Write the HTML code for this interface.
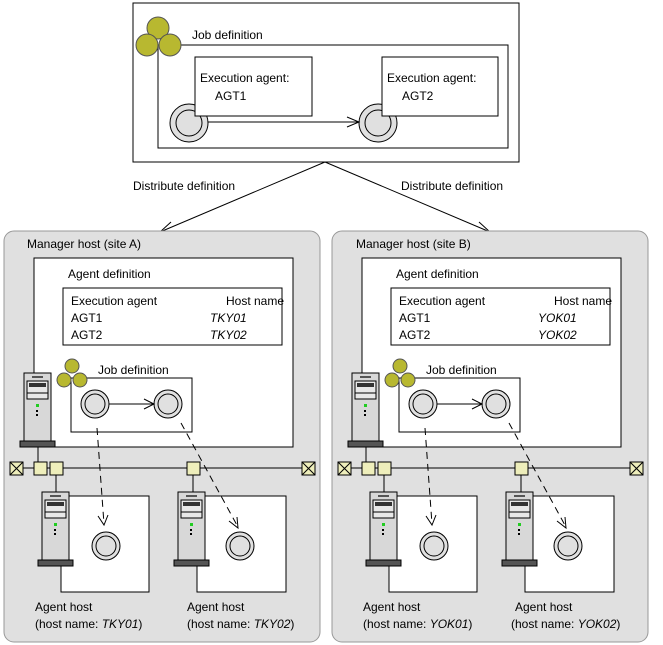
<!DOCTYPE html>
<html><head><style>
body{margin:0;background:#fff}
svg{display:block}
text{font-family:"Liberation Sans",sans-serif;font-size:12px;fill:#000}
.i{font-style:italic}
</style></head><body>
<svg width="663" height="645" viewBox="0 0 663 645" xmlns="http://www.w3.org/2000/svg">
<defs>
<g id="srv">
<rect x="0" y="0" width="27" height="68" fill="#d8d8d8" stroke="#000"/>
<line x1="8" y1="4" x2="19" y2="4" stroke="#555" stroke-width="2"/>
<rect x="3" y="8" width="21" height="18" fill="#e8e8e8" stroke="#000"/>
<rect x="5" y="10" width="17" height="4" fill="#333"/>
<line x1="3" y1="20" x2="24" y2="20" stroke="#000"/>
<rect x="12" y="31" width="3" height="3" fill="#2c2"/>
<rect x="12" y="37" width="2" height="2" fill="#000"/>
<rect x="12" y="41" width="2" height="2" fill="#000"/>
<rect x="-4" y="68" width="35" height="6" fill="#555" stroke="#000"/>
</g>
<g id="jc"><circle r="14" fill="#e0e0e0" stroke="#000"/><circle r="10" fill="#e0e0e0" stroke="#000"/></g>
<g id="sq"><rect x="-6" y="-6" width="13" height="13" fill="#eeeebb" stroke="#000"/></g>
<g id="xq"><rect x="-6" y="-6" width="13" height="13" fill="#eeeebb" stroke="#000"/><path d="M-6,-6L7,7M7,-6L-6,7" stroke="#000"/></g>
<g id="olv"><circle cx="0" cy="-7" r="7" fill="#b8b830" stroke="#555"/><circle cx="-8" cy="7" r="7" fill="#b8b830" stroke="#555"/><circle cx="8" cy="7" r="7" fill="#b8b830" stroke="#555"/></g>
<g id="site">
<rect x="4" y="231" width="316" height="411" rx="10" fill="#e0e0e0" stroke="#999"/>
<text x="27" y="248">Manager host (site A)</text>
<rect x="34" y="258" width="259" height="189" fill="#fff" stroke="#000"/>
<text x="68" y="278">Agent definition</text>
<rect x="63" y="288" width="219" height="57" fill="#fff" stroke="#000"/>
<text x="71" y="305">Execution agent</text><text x="226" y="305">Host name</text>
<text x="71" y="322">AGT1</text><text x="71" y="339">AGT2</text>
<rect x="71" y="378" width="121" height="54" fill="#fff" stroke="#000"/>
<use href="#olv" x="72" y="373"/>
<text x="98" y="374">Job definition</text>
<use href="#jc" x="95" y="404"/><use href="#jc" x="168" y="404"/>
<line x1="109" y1="404" x2="154" y2="404" stroke="#000"/>
<path d="M144,399L154,404L144,409" fill="none" stroke="#000"/>
<line x1="38" y1="447" x2="38" y2="468" stroke="#000"/>
<line x1="16" y1="468" x2="308" y2="468" stroke="#000"/>
<line x1="56" y1="468" x2="56" y2="492" stroke="#000"/>
<line x1="193" y1="468" x2="193" y2="492" stroke="#000"/>
<use href="#xq" x="16" y="468"/><use href="#sq" x="40" y="468"/><use href="#sq" x="56" y="468"/><use href="#sq" x="193" y="468"/><use href="#xq" x="308" y="468"/>
<use href="#srv" x="24" y="373"/>
<rect x="61" y="496" width="88" height="96" fill="#fff" stroke="#000"/>
<rect x="197" y="496" width="89" height="96" fill="#fff" stroke="#000"/>
<use href="#srv" x="42" y="492"/><use href="#srv" x="178" y="492"/>
<use href="#jc" x="106" y="546"/><use href="#jc" x="240" y="546"/>
<path d="M97,428L104,524" stroke="#000" stroke-dasharray="7,5" fill="none"/>
<path d="M98,516L104,525L108,515" fill="none" stroke="#000"/>
<path d="M181,423L238,527" stroke="#000" stroke-dasharray="7,5" fill="none"/>
<path d="M229,521L238,528L237,517" fill="none" stroke="#000"/>
<text x="35" y="611">Agent host</text><text x="187" y="611">Agent host</text>
</g>
</defs>
<rect x="133" y="3" width="386" height="159" fill="#fff" stroke="#000"/>
<rect x="158" y="45" width="350" height="103" fill="#fff" stroke="#000"/>
<circle cx="158" cy="28" r="11" fill="#b8b830" stroke="#555"/>
<circle cx="147" cy="45" r="11" fill="#b8b830" stroke="#555"/>
<circle cx="170" cy="45" r="11" fill="#b8b830" stroke="#555"/>
<text x="192" y="39">Job definition</text>
<circle cx="189" cy="123" r="19" fill="#e0e0e0" stroke="#000"/><circle cx="189" cy="123" r="13" fill="#e0e0e0" stroke="#000"/>
<circle cx="378" cy="123" r="19" fill="#e0e0e0" stroke="#000"/><circle cx="378" cy="123" r="13" fill="#e0e0e0" stroke="#000"/>
<line x1="208" y1="122" x2="359" y2="122" stroke="#000"/>
<path d="M347,117L359,122L347,127" fill="none" stroke="#000"/>
<rect x="195" y="57" width="117" height="59" fill="#fff" stroke="#000"/>
<text x="200" y="82">Execution agent:</text><text x="215" y="100">AGT1</text>
<rect x="382" y="57" width="116" height="59" fill="#fff" stroke="#000"/>
<text x="387" y="82">Execution agent:</text><text x="402" y="100">AGT2</text>
<path d="M325,162L160,232M325,162L490,232" stroke="#000" fill="none"/>
<path d="M171,222L160,232L175,231M479,222L490,232L475,231" stroke="#000" fill="none"/>
<text x="133" y="190">Distribute definition</text>
<text x="401" y="190">Distribute definition</text>
<use href="#site"/>
<text class="i" x="210" y="322">TKY01</text><text class="i" x="210" y="339">TKY02</text>
<text x="35" y="628">(host name: <tspan class="i">TKY01</tspan>)</text>
<text x="187" y="628">(host name: <tspan class="i">TKY02</tspan>)</text>
<g transform="translate(328,0)">
<use href="#site"/>
<rect x="26" y="238" width="140" height="14" fill="#e0e0e0"/>
<text x="28" y="248">Manager host (site B)</text>
<text class="i" x="210" y="322">YOK01</text><text class="i" x="210" y="339">YOK02</text>
<text x="35" y="628">(host name: <tspan class="i">YOK01</tspan>)</text>
<text x="183" y="628">(host name: <tspan class="i">YOK02</tspan>)</text>
</g>
</svg>
</body></html>
